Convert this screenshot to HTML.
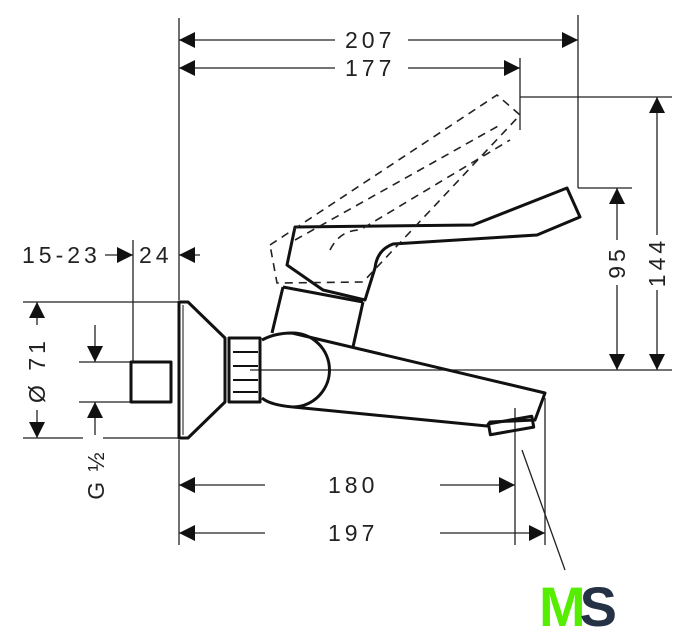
<!DOCTYPE html>
<html><head><style>body{margin:0;background:#fff}svg{display:block}text{font-family:"Liberation Sans",sans-serif;font-size:23px;fill:#222;letter-spacing:4px}</style></head><body>
<svg width="694" height="640" viewBox="0 0 694 640" xmlns="http://www.w3.org/2000/svg">
<defs>
<marker id="a" viewBox="0 0 10 10" refX="10" refY="5" markerWidth="16" markerHeight="16" markerUnits="userSpaceOnUse" orient="auto-start-reverse"><path d="M0,0L10,5L0,10z" fill="#111"/></marker>
</defs>
<g stroke="#222" stroke-width="1.3" fill="none">
<line x1="179" y1="18" x2="179" y2="300"/><line x1="179" y1="440" x2="179" y2="545"/>
<line x1="578" y1="15" x2="578" y2="188"/><line x1="520" y1="58" x2="520" y2="130"/>
<line x1="520" y1="97" x2="672" y2="97"/><line x1="578" y1="188" x2="632" y2="188"/>
<line x1="250" y1="370" x2="672" y2="370"/>
<line x1="133" y1="240" x2="133" y2="362"/>
<line x1="23" y1="302" x2="178" y2="302"/><line x1="23" y1="438" x2="83" y2="438"/><line x1="103" y1="438" x2="178" y2="438"/>
<line x1="79" y1="362" x2="130" y2="362"/><line x1="79" y1="402" x2="130" y2="402"/>
<line x1="515" y1="408" x2="515" y2="545"/><line x1="545" y1="398" x2="545" y2="545"/>
<line x1="522" y1="450" x2="565" y2="570"/>
<line x1="179" y1="40" x2="335" y2="40" marker-start="url(#a)"/><line x1="408" y1="40" x2="578" y2="40" marker-end="url(#a)"/>
<line x1="179" y1="68" x2="335" y2="68" marker-start="url(#a)"/><line x1="408" y1="68" x2="520" y2="68" marker-end="url(#a)"/>
<line x1="657" y1="97" x2="657" y2="235" marker-start="url(#a)"/><line x1="657" y1="290" x2="657" y2="370" marker-end="url(#a)"/>
<line x1="617" y1="188" x2="617" y2="240" marker-start="url(#a)"/><line x1="617" y1="285" x2="617" y2="370" marker-end="url(#a)"/>
<line x1="105" y1="255" x2="133" y2="255" marker-end="url(#a)"/>
<line x1="200" y1="255" x2="179" y2="255" marker-end="url(#a)"/>
<line x1="37" y1="302" x2="37" y2="325" marker-start="url(#a)"/><line x1="37" y1="410" x2="37" y2="438" marker-end="url(#a)"/>
<line x1="95" y1="325" x2="95" y2="362" marker-end="url(#a)"/><line x1="95" y1="435" x2="95" y2="402" marker-end="url(#a)"/>
<line x1="179" y1="485" x2="265" y2="485" marker-start="url(#a)"/><line x1="440" y1="485" x2="515" y2="485" marker-end="url(#a)"/>
<line x1="179" y1="533" x2="265" y2="533" marker-start="url(#a)"/><line x1="440" y1="533" x2="545" y2="533" marker-end="url(#a)"/>
</g>
<g stroke="#111" stroke-width="3" fill="none" stroke-linejoin="round">
<rect x="131" y="362" width="40" height="40"/>
<path d="M179,302 L188,302 L225,338 L225,402 L188,438 L179,438 Z"/>
<line x1="183" y1="305" x2="183" y2="435" stroke-width="1"/>
<rect x="229" y="338" width="31" height="64"/>
<line x1="233" y1="352" x2="258" y2="352" stroke-width="2"/><line x1="233" y1="366" x2="258" y2="366" stroke-width="2"/><line x1="233" y1="380" x2="258" y2="380" stroke-width="2"/><line x1="233" y1="392" x2="258" y2="392" stroke-width="2"/>
<path d="M262,340 Q275,333 292,333 L545,393 L535,420 L490,422 L487,426 L293,407 Q270,405 262,398"/>
<path d="M292,333 A37,37 0 0 1 293,407"/>
<rect x="489" y="420" width="44" height="11" transform="rotate(-10 511 425)"/>
<path d="M272,333 L283,287 M353,347 L363,302 M283,287 L363,302"/>
<path d="M295,227 L473,225 L567,188 L580,217 L537,235 L393,244 Q377,250 375,268 L365,300 L323,290 L287,265 Z"/>
</g>
<g stroke="#222" stroke-width="1.6" fill="none" stroke-dasharray="8,6">
<path d="M270,245 L497,95 L520,115 L363,282 L277,283 Z"/>
<path d="M295,240 L500,125"/><path d="M330,250 Q340,230 360,230 L510,140"/>
</g>
<text x="345" y="48">207</text>
<text x="345" y="76">177</text>
<text x="22" y="263">15-23</text>
<text x="139" y="263">24</text>
<text x="328" y="493">180</text>
<text x="328" y="541">197</text>
<text transform="translate(625,262) rotate(-90)" text-anchor="middle">95</text>
<text transform="translate(665,262) rotate(-90)" text-anchor="middle">144</text>
<text transform="translate(45,370) rotate(-90)" text-anchor="middle">Ø 71</text>
<text transform="translate(104,475) rotate(-90)" text-anchor="middle" style="font-size:23px;letter-spacing:2px">G ½</text>
<text x="539" y="626" style="font-size:56px;font-weight:bold;letter-spacing:-6px;fill:#55ee00">M<tspan style="fill:#253245">S</tspan></text>
</svg>
</body></html>
